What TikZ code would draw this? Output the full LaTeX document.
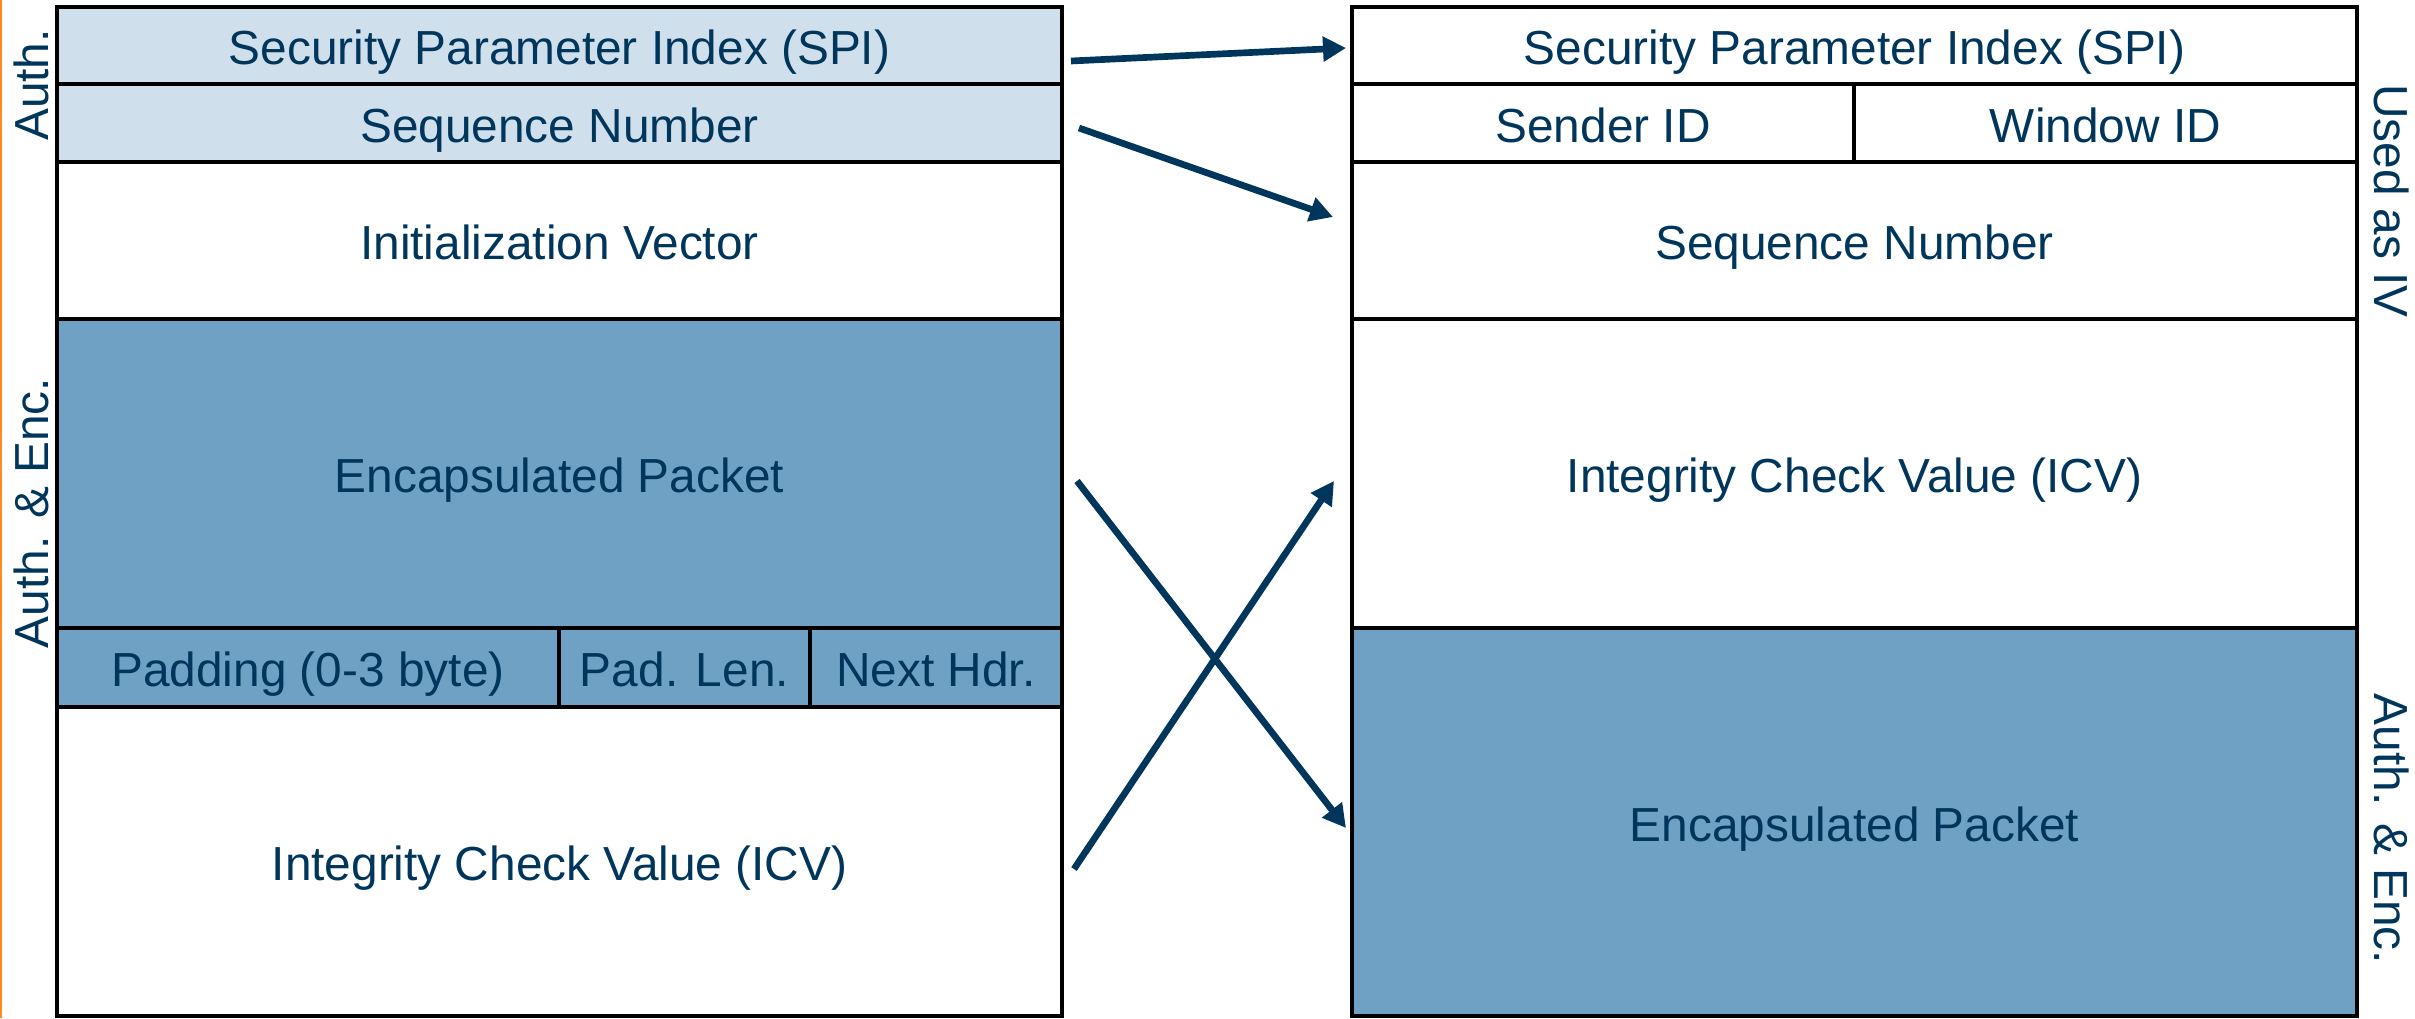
\documentclass[tikz,border=0pt]{standalone}
\usepackage{xcolor}
\usepackage{fontspec}
\setmainfont{Liberation Sans}
\usetikzlibrary{arrows.meta,positioning}
\definecolor{NavyText} {HTML}{00355C}
\definecolor{AuthBlue} {HTML}{CFDFEB}
\definecolor{EncBlue}  {HTML}{6FA1C5}
\definecolor{EdgeOrange}{HTML}{FF8A1F}

\begin{document}
\begin{tikzpicture}[
  field/.style={draw=black,line width=0.95pt,rectangle,inner sep=0pt,outer sep=0pt,
                minimum width=10.05cm,text=NavyText,font=\fontsize{13.6}{16}\selectfont,
                text height=1.2em,text depth=0.1em},
  auth/.style={field,fill=AuthBlue},
  enc/.style={field,fill=EncBlue},
  side/.style={text=NavyText,font=\fontsize{13.6}{16}\selectfont,inner sep=0pt},
  arr/.style={-{Triangle[length=0.23cm,width=0.24cm]},line width=1.9pt,color=NavyText}
]
  \useasboundingbox (0,0) rectangle (24.15,10.18);
  \draw[EdgeOrange,line width=0.6pt] (0.01,0) -- (0.01,10.18);

  % ESP packet
  \node[auth,minimum height=0.77cm,anchor=north west] (spiL) at (0.57,10.11)
        {Security Parameter Index (SPI)};
  \node[auth,minimum height=0.78cm,below=0pt of spiL] (seqL) {Sequence Number};
  \node[field,minimum height=1.57cm,below=0pt of seqL] (ivL) {Initialization Vector};
  \node[enc,minimum height=3.09cm,below=0pt of ivL] (encL) {Encapsulated Packet};
  \node[enc,minimum height=0.79cm,minimum width=5.02cm,anchor=north west] (pad)
        at (encL.south west) {Padding (0-3 byte)};
  \node[enc,minimum height=0.79cm,minimum width=2.51cm,right=0pt of pad] (padlen) {Pad. Len.};
  \node[enc,minimum height=0.79cm,minimum width=2.52cm,right=0pt of padlen] (nexthdr) {Next Hdr.};
  \node[field,minimum height=3.09cm,anchor=north west] (icvL) at (pad.south west)
        {Integrity Check Value (ICV)};

  \node[side,rotate=90] (authL) at (0.31,9.33) {Auth.};
  \node[side,rotate=90] (aencL) at (0.31,5.05) {Auth. \& Enc.};

  % transformed packet
  \node[field,minimum height=0.77cm,anchor=north west] (spiR) at (13.52,10.11)
        {Security Parameter Index (SPI)};
  \node[field,minimum height=0.78cm,minimum width=5.02cm,anchor=north west] (sender)
        at (spiR.south west) {Sender ID};
  \node[field,minimum height=0.78cm,minimum width=5.03cm,right=0pt of sender] (window) {Window ID};
  \node[field,minimum height=1.57cm,anchor=north west] (seqR) at (sender.south west)
        {Sequence Number};
  \node[field,minimum height=3.09cm,below=0pt of seqR] (icvR) {Integrity Check Value (ICV)};
  \node[enc,minimum height=3.88cm,below=0pt of icvR] (encR) {Encapsulated Packet};

  \node[side,rotate=-90] (ivR) at (23.92,8.17) {Used as IV};
  \node[side,rotate=-90] (aencR) at (23.92,1.89) {Auth. \& Enc.};

  \draw[arr] ([shift={(0.09,-0.155)}]spiL.east) -- ([shift={(-0.06,-0.025)}]spiR.west);
  \draw[arr] ([shift={(0.17,-0.05)}]seqL.east) -- ([shift={(-0.19,0.235)}]seqR.west);
  \draw[arr] ([shift={(0.15,-0.075)}]encL.east) -- ([shift={(-0.06,-0.06)}]encR.west);
  \draw[arr] ([shift={(0.12,-0.075)}]icvL.east) -- ([shift={(-0.18,-0.075)}]icvR.west);
\end{tikzpicture}
\end{document}
